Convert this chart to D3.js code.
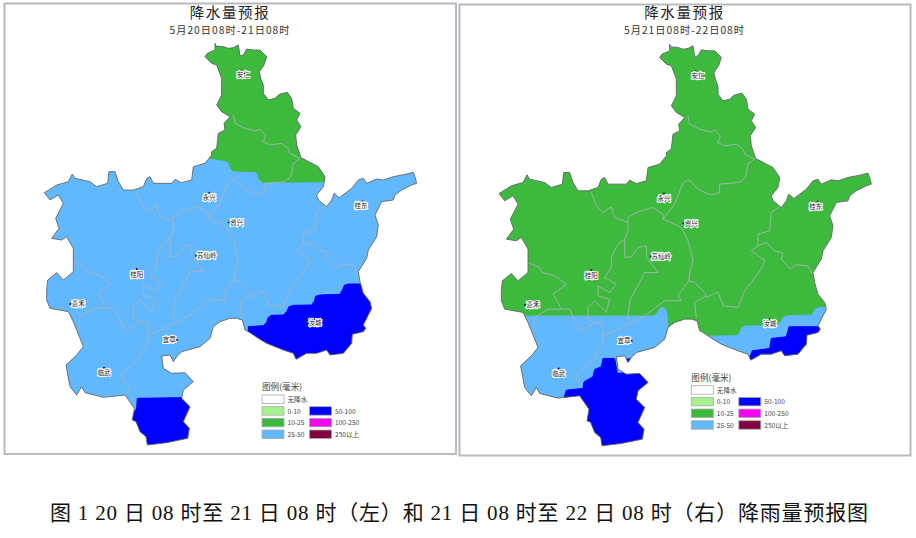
<html>
<head>
  <meta charset="utf-8">
  <script src="https://d3js.org/d3.v7.min.js"></script>
  <style>
    body { margin: 0; background: #fff; }
    svg { display: block; }
    text { font-family: "Noto Sans CJK SC", sans-serif; }
  </style>
</head>
<body>
  <svg id="chart" width="916" height="538"></svg>

  <script>
    // map units are 3x the pixels of the left panel
    const outlineCoords = [
      [645,130],[648,138],[670,140],[685,145],[700,143],[715,135],[720,167],[730,165],[740,147],[760,150],[780,150],[790,160],[800,170],[792,195],[778,215],[782,235],[790,255],[790,280],[805,300],[825,295],[838,283],[862,277],[875,295],[880,325],[900,340],[890,360],[903,380],[887,405],[890,435],[903,473],[930,487],[955,500],[975,530],[972,550],
      [970,560],[950,585],[955,600],[980,620],[995,600],[1002,580],[1018,593],[1035,580],[1055,565],[1075,540],[1090,535],[1100,550],[1130,537],[1150,540],[1180,530],[1215,523],[1240,517],[1245,530],[1250,550],[1235,555],[1205,570],[1185,585],[1180,600],[1145,605],[1125,645],[1135,675],[1130,710],[1105,750],[1100,775],[1075,815],[1080,845],[1090,880],[1110,905],[1115,925],[1105,945],
      [1090,975],[1097,985],[1090,995],[1057,1003],[1055,1030],[1030,1060],[990,1065],[980,1050],[950,1060],[920,1060],[888,1078],[880,1060],[850,1050],[825,1040],[800,1030],[775,1015],[745,995],[735,990],[727,960],[710,955],
      [690,955],[660,965],[640,980],[630,1015],[600,1040],[545,1055],[530,1070],[520,1085],[510,1065],[485,1068],[490,1105],[515,1120],[555,1118],[580,1145],[550,1170],[545,1195],[570,1220],[550,1265],[568,1285],[563,1315],[500,1328],[442,1335],[438,1310],[420,1295],[408,1265],[397,1260],[403,1225],[375,1185],[310,1192],[255,1178],[245,1160],[230,1185],[210,1160],[198,1095],[230,1065],[250,1040],[240,1015],[220,965],[205,935],[150,925],[140,900],
      [140,870],[143,840],[170,818],[190,840],[220,815],[220,785],[220,745],[200,710],[185,720],[155,715],[177,685],[167,655],[190,610],[175,585],[150,600],[133,578],[170,555],[205,545],[217,522],[225,535],[270,545],[290,560],[323,550],[327,515],[345,515],[355,545],[370,570],[400,570],[430,560],[440,535],[450,530],[460,550],[515,550],[525,538],[545,548],[575,540],[580,500],[615,490],[635,465],
      [635,455],[650,445],[655,400],[675,390],[672,370],[690,350],[665,335],[650,315],[665,285],[665,235],[650,195],[635,190],[615,170],[622,160],[645,150]
    ];

    const countyLines = [
      [[700,345],[705,370],[735,385],[765,393],[780,388],[797,405],[790,425],[810,435],[845,430],[865,445],[870,460],[900,475]],
      [[900,475],[880,490],[872,530],[855,545],[795,550],[795,575],[770,583],[740,570],[720,555],[705,537],[685,545],[672,580],[660,610],[625,655]],
      [[410,575],[425,615],[445,635],[470,618],[480,650],[520,665],[520,650],[545,635],[595,620],[625,640],[625,655],[660,670],[680,680],[700,720],[715,780],[705,815],[702,840]],
      [[702,840],[720,845],[750,875],[755,890],[790,873],[805,915],[850,920],[870,870],[920,805],[930,780],[890,750],[910,735],[910,700],[945,690],[950,635],[975,617]],
      [[910,735],[935,725],[960,750],[985,757],[980,775],[1007,805],[1025,792],[1060,795],[1073,820]],
      [[755,885],[720,905],[725,950]],
      [[702,840],[670,885],[680,900],[630,900],[570,945],[525,970],[520,950],[525,900],[555,845],[570,815],[610,815],[595,795],[575,770],[575,735],[550,740],[530,768],[510,770],[510,715],[520,690],[520,665]],
      [[510,715],[490,730],[470,770],[470,800],[450,830],[485,850],[465,875],[430,855],[430,885],[465,895],[455,935],[420,900],[400,920],[400,955],[420,965]],
      [[220,785],[255,800],[262,815],[300,825],[335,850],[295,880],[310,905],[320,925],[280,925],[240,950],[235,990]],
      [[320,925],[345,925],[365,970],[380,990],[420,965],[445,970],[445,1020],[415,1080],[360,1125],[390,1170],[375,1185]],
      [[445,1005],[525,970]]
    ];

    // rain areas, clipped to the outline when drawn
    const leftModerate = [[600,100],[1000,100],[1000,545],[788,547],[778,538],[773,520],[765,515],[700,513],[692,505],[687,488],[677,482],[635,475],[600,470]];
    const leftHeavyEast = [[745,980],[790,977],[800,967],[805,952],[815,946],[850,945],[860,935],[867,920],[880,916],[935,915],[943,903],[947,889],[960,885],[1020,883],[1028,868],[1033,856],[1045,852],[1150,852],[1150,1100],[745,1100]];
    const leftHeavySouth = [[412,1195],[410,1225],[398,1245],[380,1360],[620,1360],[620,1192]];
    const rightPeak = [[640,128],[653,128],[653,140],[640,140]];
    const rightBlueWest = [[160,946],[595,946],[608,938],[616,922],[628,920],[636,932],[640,988],[640,1248],[160,1248]];
    const rightBlueEast = [[765,1006],[845,1005],[855,998],[860,982],[870,976],[965,973],[978,965],[985,950],[1000,945],[1072,943],[1082,925],[1095,920],[1140,920],[1140,1108],[765,1108]];
    const rightHeavySouth = [[328,1193],[335,1168],[385,1163],[388,1143],[415,1128],[420,1106],[440,1098],[445,1073],[480,1073],[488,1118],[550,1113],[610,1128],[610,1368],[310,1368]];
    const rightHeavySpot = [[507,1076],[525,1074],[525,1098],[507,1098]];
    const rightHeavyEast = [[880,1083],[893,1050],[945,1043],[950,1013],[995,1008],[1003,978],[1110,978],[1110,1088]];

    const cityNames = ['安仁', '永兴', '资兴', '桂东', '苏仙岭', '桂阳', '嘉禾', '宜章', '临武', '汝城'];
    const cityPoints = [[722,210],[628,578],[686,667],[1090,602],[588,767],[410,807],[211,912],[531,1020],[312,1103],[945,955]];
    const cityLabels = [[730,225],[628,593],[710,667],[1083,618],[620,767],[410,823],[235,911],[508,1020],[312,1117],[945,968]];

    const legendNames = ['无降水', '0-10', '10-25', '25-50', '50-100', '100-250', '250以上'];
    const legendColors = ['#ffffff', '#a6f28f', '#3dba3d', '#61b8ff', '#0000ff', '#fa00fa', '#800040'];

    const color = d3.scaleOrdinal(legendNames, legendColors);
    const svg = d3.select('#chart');

    function ring(coords) {
      return { type: 'Polygon', coordinates: [coords.concat([coords[0]])] };
    }

    function drawPanel(cfg) {
      svg.append('rect')
        .attr('x', cfg.frame[0]).attr('y', cfg.frame[1])
        .attr('width', cfg.frame[2]).attr('height', cfg.frame[3])
        .attr('fill', '#fff').attr('stroke', '#b8bac0').attr('stroke-width', 2);

      svg.append('text').attr('x', cfg.cx).attr('y', 18)
        .attr('text-anchor', 'middle').attr('font-size', 14.5).attr('letter-spacing', 1.6)
        .attr('fill', '#222').text('降水量预报');
      svg.append('text').attr('x', cfg.cx).attr('y', 34)
        .attr('text-anchor', 'middle').attr('font-size', 10.2).attr('letter-spacing', 1.05)
        .attr('fill', '#333').text(cfg.subtitle);

      const projection = d3.geoIdentity().scale(1 / 3).translate([cfg.dx, cfg.dy]);
      const path = d3.geoPath(projection);

      svg.append('clipPath').attr('id', cfg.id + '-clip')
        .append('path').attr('d', path(ring(outlineCoords)));

      svg.append('path').attr('d', path(ring(outlineCoords)))
        .attr('fill', color(cfg.base));

      const drawZones = zones => svg.append('g').attr('clip-path', `url(#${cfg.id}-clip)`)
        .selectAll('path').data(zones).enter().append('path')
        .attr('d', d => path(ring(d.coords)))
        .attr('fill', d => color(d.cat))
        .attr('stroke', d => color(d.cat))
        .attr('stroke-width', 1)
        .attr('stroke-linejoin', 'round');

      drawZones(cfg.zones.filter(d => d.cat !== '50-100'));

      svg.append('g').selectAll('path').data(countyLines).enter().append('path')
        .attr('d', d => path({ type: 'LineString', coordinates: d }))
        .attr('fill', 'none').attr('stroke', '#a9b3b8').attr('stroke-width', 0.9);

      // the heaviest areas hide the county lines
      drawZones(cfg.zones.filter(d => d.cat === '50-100'));

      svg.append('path').attr('d', path(ring(outlineCoords)))
        .attr('fill', 'none').attr('stroke', '#666').attr('stroke-width', 0.9)
        .attr('stroke-linejoin', 'round');

      svg.append('g').selectAll('circle').data(cityPoints).enter().append('circle')
        .attr('cx', d => projection(d)[0]).attr('cy', d => projection(d)[1])
        .attr('r', 0.9).attr('fill', '#000');

      svg.append('g').selectAll('text').data(cityNames).enter().append('text')
        .attr('x', (d, i) => projection(cityLabels[i])[0])
        .attr('y', (d, i) => projection(cityLabels[i])[1] + 2.4)
        .attr('text-anchor', 'middle').attr('font-size', 6.5).attr('fill', '#222')
        .attr('stroke', '#fff').attr('stroke-width', 2).attr('paint-order', 'stroke')
        .text(d => d);

      // legend
      const lg = svg.append('g').attr('transform', `translate(${cfg.legend[0]},${cfg.legend[1]})`);
      lg.append('text').attr('x', 0).attr('y', -5).attr('font-size', 8.6).attr('fill', '#444').text('图例(毫米)');
      const col = i => (i < 4 ? 0 : 47.5);
      const row = i => (i < 4 ? i : i - 3) * 11.67;
      lg.selectAll('rect').data(legendNames).enter().append('rect')
        .attr('x', (d, i) => col(i)).attr('y', (d, i) => row(i))
        .attr('width', 22).attr('height', 8.5)
        .attr('fill', d => color(d)).attr('stroke', '#aaa').attr('stroke-width', 0.8);
      lg.selectAll('text.item').data(legendNames).enter().append('text')
        .attr('class', 'item')
        .attr('x', (d, i) => col(i) + 25.5).attr('y', (d, i) => row(i) + 7)
        .attr('font-size', 6.6).attr('fill', '#444').text(d => d);
    }

    drawPanel({
      id: 'left', frame: [4.5, 3.5, 451.5, 450.5], cx: 230, dx: 0, dy: 0,
      subtitle: '5月20日08时-21日08时', base: '25-50', legend: [262, 395],
      zones: [
        { cat: '10-25', coords: leftModerate },
        { cat: '50-100', coords: leftHeavyEast },
        { cat: '50-100', coords: leftHeavySouth }
      ]
    });

    drawPanel({
      id: 'right', frame: [459.5, 4.5, 451, 451], cx: 684.5, dx: 454.67, dy: 0.8,
      subtitle: '5月21日08时-22日08时', base: '10-25', legend: [691.3, 385.7],
      zones: [
        { cat: '25-50', coords: rightPeak },
        { cat: '25-50', coords: rightBlueWest },
        { cat: '25-50', coords: rightBlueEast },
        { cat: '50-100', coords: rightHeavySouth },
        { cat: '50-100', coords: rightHeavySpot },
        { cat: '50-100', coords: rightHeavyEast }
      ]
    });

    svg.append('text').attr('x', 50).attr('y', 520)
      .attr('textLength', 818).attr('lengthAdjust', 'spacing')
      .style('font-family', '"Liberation Serif", "Noto Sans CJK SC", serif')
      .attr('font-size', 21).attr('fill', '#111')
      .text('图 1 20 日 08 时至 21 日 08 时（左）和 21 日 08 时至 22 日 08 时（右）降雨量预报图');
  </script>
</body>
</html>
